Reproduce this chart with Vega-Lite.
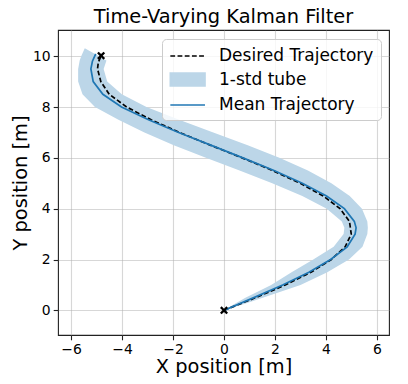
{
  "$schema": "https://vega.github.io/schema/vega-lite/v6.json",
  "width": 331,
  "height": 305,
  "autosize": {"type": "none"},
  "padding": {"left": 58, "top": 30, "right": 19, "bottom": 49},
  "title": {"text": "Time-Varying Kalman Filter", "fontSize": 19.4, "fontWeight": "normal", "font": "DejaVu Sans", "color": "#000000", "anchor": "middle", "baseline": "alphabetic", "offset": 7, "dy": 19, "frame": "group"},
  "config": {
    "font": "DejaVu Sans",
    "view": {"stroke": "#222222", "strokeWidth": 1.1},
    "axis": {"domain": false, "grid": true, "gridColor": "#b0b0b0", "gridOpacity": 0.5, "gridWidth": 1.1, "tickColor": "#222222", "tickWidth": 1.1, "tickSize": 4.8, "labelFontSize": 13.9, "labelColor": "#000000", "labelFont": "DejaVu Sans", "titleFont": "DejaVu Sans", "titleFontSize": 19.4, "titleFontWeight": "normal", "titleColor": "#000000"}
  },
  "datasets": {
    "tube": [
      {"y": 0, "xl": 0, "xr": 0},
      {"y": 0.25, "xl": 0.41, "xr": 0.79},
      {"y": 0.5, "xl": 0.84, "xr": 1.52},
      {"y": 1.0, "xl": 1.85, "xr": 3.0},
      {"y": 1.5, "xl": 2.65, "xr": 4.05},
      {"y": 2.0, "xl": 3.5, "xr": 4.9},
      {"y": 2.5, "xl": 4.3, "xr": 5.43},
      {"y": 3.0, "xl": 4.69, "xr": 5.62},
      {"y": 3.25, "xl": 4.72, "xr": 5.64},
      {"y": 3.5, "xl": 4.62, "xr": 5.62},
      {"y": 4.0, "xl": 4.03, "xr": 5.41},
      {"y": 4.5, "xl": 3.07, "xr": 4.93},
      {"y": 5.0, "xl": 1.89, "xr": 4.21},
      {"y": 5.5, "xl": 0.61, "xr": 3.29},
      {"y": 6.0, "xl": -0.71, "xr": 2.17},
      {"y": 6.5, "xl": -1.97, "xr": 0.93},
      {"y": 7.0, "xl": -3.12, "xr": -0.42},
      {"y": 7.5, "xl": -4.14, "xr": -1.76},
      {"y": 8.0, "xl": -5.06, "xr": -3.04},
      {"y": 8.5, "xl": -5.55, "xr": -4.01},
      {"y": 9.0, "xl": -5.72, "xr": -4.58},
      {"y": 9.5, "xl": -5.72, "xr": -4.72},
      {"y": 9.83, "xl": -5.66, "xr": -4.61},
      {"y": 10.0, "xl": -5.6, "xr": -4.91},
      {"y": 10.15, "xl": -5.53, "xr": -5.18},
      {"y": 10.31, "xl": -5.46, "xr": -5.46}
    ],
    "desired": [
      {"x": 0, "y": 0},
      {"x": 0.62, "y": 0.25},
      {"x": 1.24, "y": 0.5},
      {"x": 1.83, "y": 0.75},
      {"x": 2.4, "y": 1.0},
      {"x": 3.41, "y": 1.5},
      {"x": 4.21, "y": 2.0},
      {"x": 4.75, "y": 2.5},
      {"x": 4.99, "y": 3.0},
      {"x": 4.92, "y": 3.5},
      {"x": 4.55, "y": 4.0},
      {"x": 3.89, "y": 4.5},
      {"x": 2.99, "y": 5.0},
      {"x": 1.91, "y": 5.5},
      {"x": 0.71, "y": 6.0},
      {"x": -0.54, "y": 6.5},
      {"x": -1.75, "y": 7.0},
      {"x": -2.86, "y": 7.5},
      {"x": -3.82, "y": 8.0},
      {"x": -4.5, "y": 8.5},
      {"x": -4.83, "y": 9.0},
      {"x": -4.96, "y": 9.5},
      {"x": -4.93, "y": 9.75},
      {"x": -4.82, "y": 10.02}
    ],
    "mean": [
      {"x": 0, "y": 0},
      {"x": 0.58, "y": 0.25},
      {"x": 1.17, "y": 0.5},
      {"x": 2.3, "y": 1.0},
      {"x": 3.33, "y": 1.5},
      {"x": 4.18, "y": 2.0},
      {"x": 4.83, "y": 2.5},
      {"x": 5.14, "y": 3.0},
      {"x": 5.18, "y": 3.25},
      {"x": 5.11, "y": 3.5},
      {"x": 4.72, "y": 4.0},
      {"x": 4.02, "y": 4.5},
      {"x": 3.07, "y": 5.0},
      {"x": 1.96, "y": 5.5},
      {"x": 0.74, "y": 6.0},
      {"x": -0.52, "y": 6.5},
      {"x": -1.78, "y": 7.0},
      {"x": -2.96, "y": 7.5},
      {"x": -4.02, "y": 8.0},
      {"x": -4.75, "y": 8.5},
      {"x": -5.13, "y": 9.0},
      {"x": -5.22, "y": 9.5},
      {"x": -5.16, "y": 9.8},
      {"x": -5.03, "y": 10.09}
    ],
    "markers": [
      {"x": 0, "y": 0},
      {"x": -4.82, "y": 10.02}
    ]
  },
  "layer": [
    {
      "data": {"name": "tube"},
      "mark": {"type": "area", "orient": "horizontal", "opacity": 1},
      "encoding": {
        "y": {"field": "y", "type": "quantitative", "scale": {"domain": [-0.97, 11.03], "nice": false, "zero": false}, "axis": {"values": [0, 2, 4, 6, 8, 10], "title": "Y position [m]", "labelPadding": 3, "titlePadding": 2}},
        "x": {"field": "xl", "type": "quantitative", "scale": {"domain": [-6.51, 6.47], "nice": false, "zero": false}, "axis": {"values": [-6, -4, -2, 0, 2, 4, 6], "title": "X position [m]", "labelPadding": 3, "titlePadding": 1}},
        "x2": {"field": "xr"},
        "color": {
          "datum": "1-std tube",
          "type": "nominal",
          "scale": {"domain": ["Desired Trajectory", "1-std tube", "Mean Trajectory"], "range": ["#000000", "#bcd6e8", "#1f77b4"]},
          "legend": {
            "title": null,
            "orient": "top-right",
            "offset": 8.5,
            "fillColor": "rgba(255,255,255,0.8)",
            "strokeColor": "#cccccc",
            "cornerRadius": 4,
            "padding": 7,
            "symbolType": "M-1,0H3",
            "symbolSize": 300,
            "symbolStrokeWidth": 1.7,
            "symbolOpacity": 1,
            "labelFontSize": 17,
            "labelFont": "DejaVu Sans",
            "labelColor": "#000000",
            "labelOffset": 30,
            "labelLimit": 300,
            "rowPadding": 5.5,
            "encode": {
              "symbols": {
                "update": {
                  "shape": {"signal": "datum.value === '1-std tube' ? 'M-1,-0.73H3V0.73H-1Z' : 'M-1,0H3'"},
                  "stroke": {"signal": "datum.value === '1-std tube' ? '#bcd6e8' : (datum.value === 'Desired Trajectory' ? '#000000' : '#1f77b4')"},
                  "strokeDash": {"signal": "datum.value === 'Desired Trajectory' ? [4.8, 2.4] : [1, 0]"},
                  "opacity": {"value": 1},
                  "strokeWidth": {"value": 1.7}
                }
              }
            }
          }
        }
      }
    },
    {
      "data": {"name": "desired"},
      "mark": {"type": "line", "strokeDash": [4.8, 2.4], "strokeWidth": 1.7, "color": "#000000"},
      "encoding": {
        "x": {"field": "x", "type": "quantitative"},
        "y": {"field": "y", "type": "quantitative"},
        "order": {"field": "y", "type": "quantitative"}
      }
    },
    {
      "data": {"name": "mean"},
      "mark": {"type": "line", "strokeWidth": 1.7, "color": "#1f77b4"},
      "encoding": {
        "x": {"field": "x", "type": "quantitative"},
        "y": {"field": "y", "type": "quantitative"},
        "order": {"field": "y", "type": "quantitative"}
      }
    },
    {
      "data": {"name": "markers"},
      "mark": {"type": "point", "shape": "M-1,-0.6L-0.6,-1L0,-0.4L0.6,-1L1,-0.6L0.4,0L1,0.6L0.6,1L0,0.4L-0.6,1L-1,0.6L-0.4,0Z", "filled": true, "color": "#000000", "size": 64, "opacity": 1},
      "encoding": {
        "x": {"field": "x", "type": "quantitative"},
        "y": {"field": "y", "type": "quantitative"}
      }
    }
  ]
}
